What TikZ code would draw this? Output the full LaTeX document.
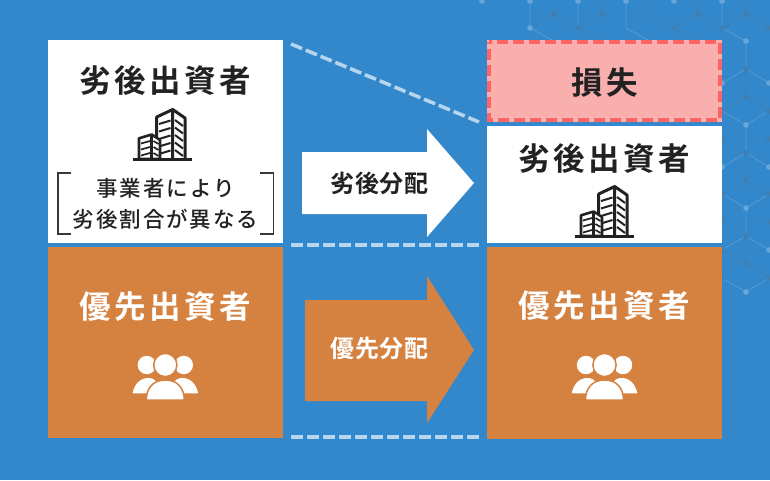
\documentclass[tikz,border=0pt]{standalone}
\usepackage{fontspec}
\setmainfont{Noto Sans CJK JP}
\newfontfamily\headfont[LetterSpace=11]{Noto Sans CJK JP Bold}
\newfontfamily\notefont[LetterSpace=9]{Noto Sans CJK JP Medium}
\newfontfamily\flowfont[LetterSpace=4]{Noto Sans CJK JP Bold}
\usetikzlibrary{positioning,calc}
\definecolor{bgblue}{HTML}{3388CC}
\definecolor{boxorange}{HTML}{D58140}
\definecolor{losspink}{HTML}{F8AFAD}
\definecolor{lossred}{HTML}{FF6464}
\definecolor{cutblue}{HTML}{B5D6EE}
\definecolor{inkblack}{HTML}{222222}
\definecolor{hexlight}{HTML}{66A6D9}
\definecolor{hexdark}{HTML}{3F7FB2}
\definecolor{hexline}{HTML}{5A9BD3}
\tikzset{
    plain-box/.style={
        anchor=north west,
        inner sep=0pt,
        fill=white
    },
    prior-box/.style={
        plain-box,
        fill=boxorange
    },
    head-text/.style={
        font=\fontsize{31.5}{36}\headfont,
        text=inkblack,
        inner sep=0pt
    },
    note-text/.style={
        font=\fontsize{21.5}{31}\notefont,
        text=inkblack,
        inner sep=0pt,
        align=center
    },
    flow-text/.style={
        font=\fontsize{24}{27}\flowfont,
        inner sep=0pt
    },
    cut-line/.style={
        draw=cutblue,
        line width=3.5pt,
        dash pattern=on 12pt off 4pt
    },
    hex-line/.style={
        draw=hexline,
        line width=0.7pt
    },
    hex-dim/.style={
        draw=hexdark,
        line width=0.7pt
    },
    bracket-line/.style={
        draw=inkblack!90,
        line width=1.4pt
    },
    tower/.pic={
        \draw[inkblack,line width=3pt,line join=round]
            (23.7,0) -- (23.7,-42) -- (39.7,-49.5) -- (52,-41) -- (52,0)
            (39.7,-49.5) -- (39.7,0);
        \foreach \y in {-35,-27.5,-20,-12.5,-5}
            \draw[inkblack,line width=2pt] (26,\y) -- (37.5,\y-3.5) (42,\y-4) -- (50,\y+2);
        \filldraw[fill=white,draw=inkblack,line width=2.6pt,line join=round]
            (6,0) -- (6,-20.7) -- (18.7,-24.5) -- (27,-19) -- (27,0) -- cycle;
        \draw[inkblack,line width=2.6pt] (18.7,-24.5) -- (18.7,0);
        \foreach \y in {-15.5,-9.5,-3.5}
            \draw[inkblack,line width=1.7pt] (8,\y) -- (17,\y-2.5) (20.5,\y-2.5) -- (25.5,\y+0.5);
        \draw[inkblack,line width=3pt] (0,0) -- (59,0);
    },
    crowd/.pic={
        \fill[white] (-18.5,0) circle (9.2) (18.5,0) circle (9.2);
        \fill[white] (-32.8,28.3) .. controls (-31,19) and (-25,13) .. (-17,13)
            .. controls (-9,13) and (-5,20) .. (-5,28.3) -- cycle;
        \fill[white] (32.8,28.3) .. controls (31,19) and (25,13) .. (17,13)
            .. controls (9,13) and (5,20) .. (5,28.3) -- cycle;
        \filldraw[white,draw=boxorange,line width=1.5pt] (0,0) circle (11.6);
        \filldraw[white,draw=boxorange,line width=1.5pt] (-19,35) .. controls (-19,23) and (-12,15) .. (0,15)
            .. controls (12,15) and (19,23) .. (19,35) -- cycle;
    }
}
\begin{document}
\begin{tikzpicture}[x=1pt,y=-1pt]
    \useasboundingbox (0,0) rectangle (770,480);
    \fill[bgblue] (0,0) rectangle (770,480);
    % hexagon ground, upper right
    \draw[hex-line]
        (530,0) -- (530,28) -- (554,41) (578,0) -- (578,28) (626,0) -- (626,28) -- (650,41)
        (722,0) -- (722,28) -- (746,41) -- (746,69) -- (722,83) (746,69) -- (769,83)
        (722,111) -- (746,125) -- (769,111) (746,125) -- (746,153)
        (722,167) -- (746,153) -- (769,167)
        (722,194) -- (746,208) -- (769,194) (746,208) -- (746,236)
        (722,250) -- (746,236) -- (769,250)
        (722,278) -- (746,292) -- (769,278);
    \draw[hex-dim]
        (530,28) -- (554,14) -- (578,28) -- (602,14) -- (602,0) (578,28) -- (602,41)
        (650,14) -- (650,0) (650,14) -- (674,28) -- (698,14) -- (698,0) (674,28) -- (698,41)
        (698,14) -- (722,28) -- (746,14) -- (746,0) (746,14) -- (769,28)
        (746,69) -- (746,97) -- (722,111) (746,97) -- (769,111)
        (746,153) -- (746,180) -- (722,194) (746,180) -- (769,194)
        (746,236) -- (746,264) -- (769,278) (746,264) -- (722,250);
    \foreach \hx/\hy in {482/1,530/1,578/1,626/1,674/1,722/1,530/28,746/41,746/125,746/208,746/292,
            769/83,769/167,769/250,722/167,722/83}
        \fill[hexlight] (\hx,\hy) circle (2.8);
    \foreach \hx/\hy in {554/14,602/14,698/14,746/14,578/28,674/28,722/28,746/69,746/97,
            746/153,746/180,746/236,746/264,769/28,769/111,769/139,769/194,769/222,769/278,722/139,722/194,722/222,722/250,722/278}
        \fill[hexdark] (\hx,\hy) circle (2.8);
    % left column
    \node[plain-box,minimum width=235pt,minimum height=203pt] (subLeft) at (48,40) {};
    \node[prior-box,minimum width=235pt,minimum height=191pt] (prioLeft) at (48,247) {};
    \node[head-text] (subLeftName) at (165.5,81) {劣後出資者};
    \pic at (133,159) {tower};
    \node[note-text] (subNote) at (165.5,204) {事業者により\\劣後割合が異なる};
    \coordinate (brLa) at (71,173);
    \coordinate (brLb) at (58,173);
    \coordinate (brLc) at (58,234);
    \coordinate (brLd) at (71,234);
    \coordinate (brRa) at (260,173);
    \coordinate (brRb) at (273.5,173);
    \coordinate (brRc) at (273.5,234);
    \coordinate (brRd) at (260,234);
    \draw[bracket-line] (brLa) -- (brLb) -- (brLc) -- (brLd);
    \draw[bracket-line] (brRa) -- (brRb) -- (brRc) -- (brRd);
    \node[head-text,text=white] (prioLeftName) at (165.5,307) {優先出資者};
    \pic at (165.3,365) {crowd};
    % right column
    \node[plain-box,minimum width=235pt,minimum height=117pt] (subRight) at (487,126) {};
    \node[prior-box,minimum width=235pt,minimum height=192pt] (prioRight) at (487,247) {};
    \node[anchor=north west,inner sep=0pt,fill=losspink,minimum width=235pt,minimum height=82pt] (lossBox) at (487,40) {};
    \draw[draw=lossred,line width=4pt,dash pattern=on 11pt off 5pt,dash phase=9pt] (489,42) rectangle (720,120);
    \node[head-text] (lossName) at (604.5,83) {損失};
    \node[head-text] (subRightName) at (604.5,159) {劣後出資者};
    \pic at (575,236) {tower};
    \node[head-text,text=white] (prioRightName) at (604.5,306) {優先出資者};
    \pic at (604.5,365) {crowd};
    % flows
    \fill[white] (302,152) -- (427,152) -- (427,129) -- (474,183) -- (427,237) -- (427,214) -- (302,214) -- cycle;
    \node[flow-text,text=inkblack] (subFlow) at (379.5,183) {劣後分配};
    \fill[boxorange] (305,300) -- (427,300) -- (427,276) -- (474,350) -- (427,423) -- (427,401) -- (305,401) -- cycle;
    \node[flow-text,text=white] (prioFlow) at (379.5,348) {優先分配};
    % cut lines
    \coordinate (cutTopA) at (291,44);
    \coordinate (cutTopB) at (479,122);
    \coordinate (cutMidA) at (291,245);
    \coordinate (cutMidB) at (479,245);
    \coordinate (cutLowA) at (291,437);
    \coordinate (cutLowB) at (479,437);
    \draw[cut-line] (cutTopA) -- (cutTopB);
    \draw[cut-line] (cutMidA) -- (cutMidB);
    \draw[cut-line] (cutLowA) -- (cutLowB);
\end{tikzpicture}
\end{document}
